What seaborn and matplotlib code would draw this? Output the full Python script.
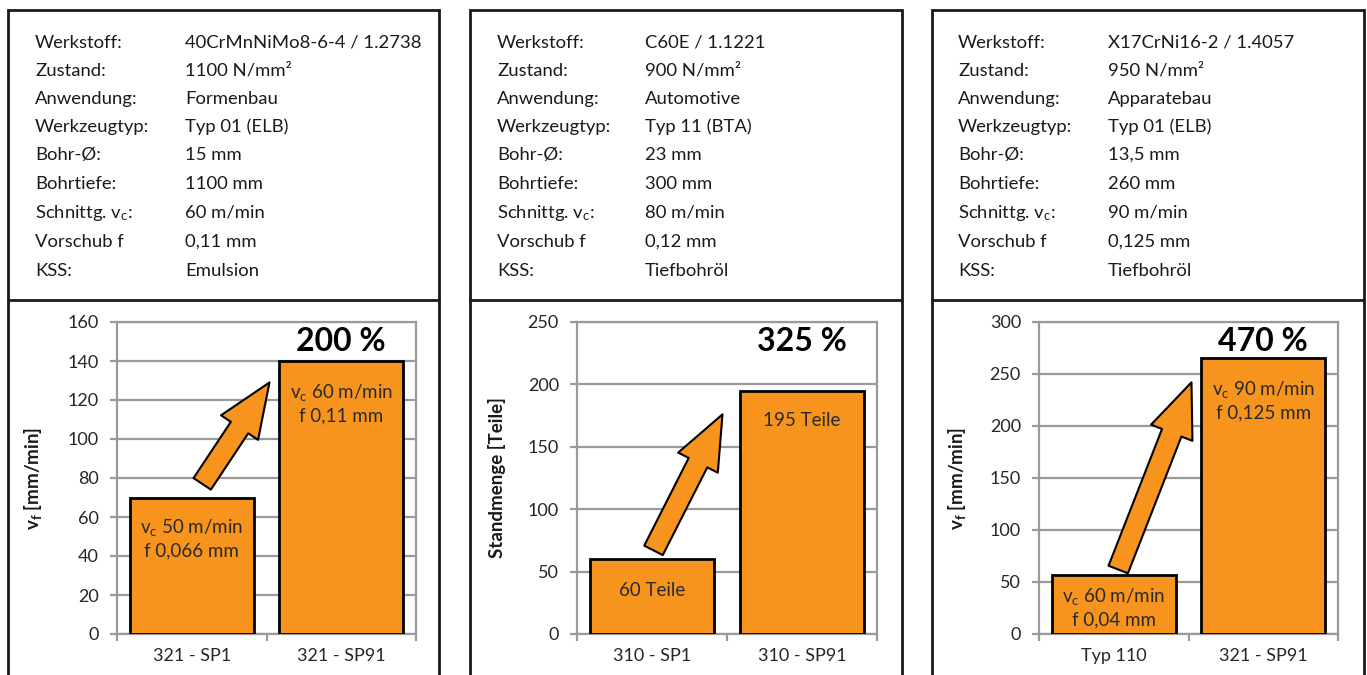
import matplotlib.pyplot as plt
import seaborn as sns
import pandas as pd
from matplotlib.patches import Rectangle
from matplotlib.lines import Line2D

sns.set_style('white')
plt.rcParams['font.family'] = ['Lato', 'DejaVu Sans']
plt.rcParams['mathtext.default'] = 'regular'

ORANGE = '#F7941D'
GRID = '#9a9a9a'
W, H = 1367, 675

# --- data -------------------------------------------------------------
row_labels = ['Werkstoff:', 'Zustand:', 'Anwendung:', 'Werkzeugtyp:',
              'Bohr-Ø:', 'Bohrtiefe:', 'Schnittg. v$_c$:', 'Vorschub f',
              'KSS:']
values_1 = ['40CrMnNiMo8-6-4 / 1.2738', '1100 N/mm²', 'Formenbau',
            'Typ 01 (ELB)', '15 mm', '1100 mm', '60 m/min', '0,11 mm',
            'Emulsion']
values_2 = ['C60E / 1.1221', '900 N/mm²', 'Automotive', 'Typ 11 (BTA)',
            '23 mm', '300 mm', '80 m/min', '0,12 mm', 'Tiefbohröl']
values_3 = ['X17CrNi16-2 / 1.4057', '950 N/mm²', 'Apparatebau',
            'Typ 01 (ELB)', '13,5 mm', '260 mm', '90 m/min', '0,125 mm',
            'Tiefbohröl']

tools_1 = ['321 - SP1', '321 - SP91']
vf_1 = [70, 140]
tools_2 = ['310 - SP1', '310 - SP91']
parts_2 = [60, 195]
tools_3 = ['Typ 110', '321 - SP91']
vf_3 = [57, 265]

gains = ['200 %', '325 %', '470 %']
notes_1 = ['v$_c$ 50 m/min\nf 0,066 mm', 'v$_c$ 60 m/min\nf 0,11 mm']
notes_2 = ['60 Teile', '195 Teile']
notes_3 = ['v$_c$ 60 m/min\nf 0,04 mm', 'v$_c$ 90 m/min\nf 0,125 mm']

# --- layout (pixels of the 1367x675 picture) ---------------------------
panels = [
    dict(box=(8, 439), text_x=(35, 185), axes=(117, 416),
         tools=tools_1, values=vf_1, values_text=values_1, gain=gains[0],
         notes=notes_1, ymax=160, step=20,
         ylabel='v$_f$ [mm/min]', ylabel_size=13.5, ylabel_x=-0.245,
         note_y=(49, 118.5), gain_y=150, arrow=((0.07, 77), (0.52, 129))),
    dict(box=(470, 902), text_x=(497, 645), axes=(577, 877),
         tools=tools_2, values=parts_2, values_text=values_2, gain=gains[1],
         notes=notes_2, ymax=250, step=50,
         ylabel='Standmenge [Teile]', ylabel_size=13.5, ylabel_x=-0.235,
         note_y=(35, 171), gain_y=234, arrow=((0.01, 67), (0.47, 176))),
    dict(box=(932, 1364), text_x=(958, 1108), axes=(1039, 1338),
         tools=tools_3, values=vf_3, values_text=values_3, gain=gains[2],
         notes=notes_3, ymax=300, step=50,
         ylabel='v$_f$ [mm/min]', ylabel_size=13.5, ylabel_x=-0.237,
         note_y=(25.5, 224.5), gain_y=281, arrow=((0.03, 62), (0.52, 242))),
]
row_y = [43, 71, 99, 127, 155, 184, 213, 242, 271]
axes_top, axes_bottom = 322, 634
INK = '#1a1a1a'

fig = plt.figure(figsize=(W / 100, H / 100), dpi=100)

for p in panels:
    x0, x1 = p['box']
    # outer frame and divider
    fig.add_artist(Rectangle((x0 / W, -30 / H), (x1 - x0) / W, (H + 20) / H,
                             transform=fig.transFigure, fill=False,
                             ec=INK, lw=2, clip_on=False))
    fig.add_artist(Line2D([x0 / W, x1 / W], [1 - 300 / H, 1 - 300 / H],
                          transform=fig.transFigure, color=INK, lw=2))

    # info table
    lx, vx = p['text_x']
    for y, lab, val in zip(row_y, row_labels, p['values_text']):
        fig.text(lx / W, 1 - y / H, lab, fontsize=13.3, va='center',
                 color=INK)
        fig.text(vx / W, 1 - y / H, val, fontsize=13.3, va='center',
                 color=INK)

    # bar chart
    a0, a1 = p['axes']
    ax = fig.add_axes([a0 / W, 1 - axes_bottom / H, (a1 - a0) / W,
                       (axes_bottom - axes_top) / H])
    df = pd.DataFrame({'tool': p['tools'], 'value': p['values']})
    sns.barplot(data=df, x='tool', y='value', color=ORANGE, saturation=1,
                edgecolor='black', linewidth=2, width=0.83, ax=ax, zorder=3)
    ax.set_xlim(-0.5, 1.5)
    ax.set_ylim(0, p['ymax'])
    ax.set_yticks(range(0, p['ymax'] + 1, p['step']))
    ax.set_axisbelow(True)
    ax.yaxis.grid(True, color=GRID, lw=1.6)
    for s in ax.spines.values():
        s.set_color(GRID)
        s.set_linewidth(1.6)
    ax.set_xticks([-0.5, 0.5, 1.5], minor=True)
    ax.tick_params(axis='x', which='major', length=0, pad=10,
                   labelsize=13, labelcolor='#262626')
    ax.tick_params(axis='x', which='minor', length=5, width=1.6,
                   color=GRID, direction='out', bottom=True)
    ax.tick_params(axis='y', length=5, width=1.6, color=GRID,
                   direction='out', left=True, pad=8, labelsize=13,
                   labelcolor='#262626')
    ax.set_xlabel('')
    ax.set_ylabel(p['ylabel'], fontsize=p['ylabel_size'], fontweight='bold',
                  color=INK)
    ax.yaxis.set_label_coords(p['ylabel_x'], 0.5)

    # texts inside and above the bars
    for i, (note, ny) in enumerate(zip(p['notes'], p['note_y'])):
        ax.text(i, ny, note, ha='center', va='center', fontsize=13.5,
                linespacing=1.3, color='#2a2a2a', zorder=5)
    ax.text(1, p['gain_y'], p['gain'], ha='center', va='center',
            fontsize=23, fontweight='bold', color='black', zorder=5)

    # arrow
    tail, tip = p['arrow']
    ax.annotate('', xy=tip, xytext=tail, zorder=6,
                arrowprops=dict(
                    arrowstyle='simple,head_length=3.9,head_width=3.2,'
                               'tail_width=1.5',
                    mutation_scale=10, fc=ORANGE, ec='black', lw=1.5,
                    shrinkA=0, shrinkB=0))

fig.savefig('out.png', dpi=100)
